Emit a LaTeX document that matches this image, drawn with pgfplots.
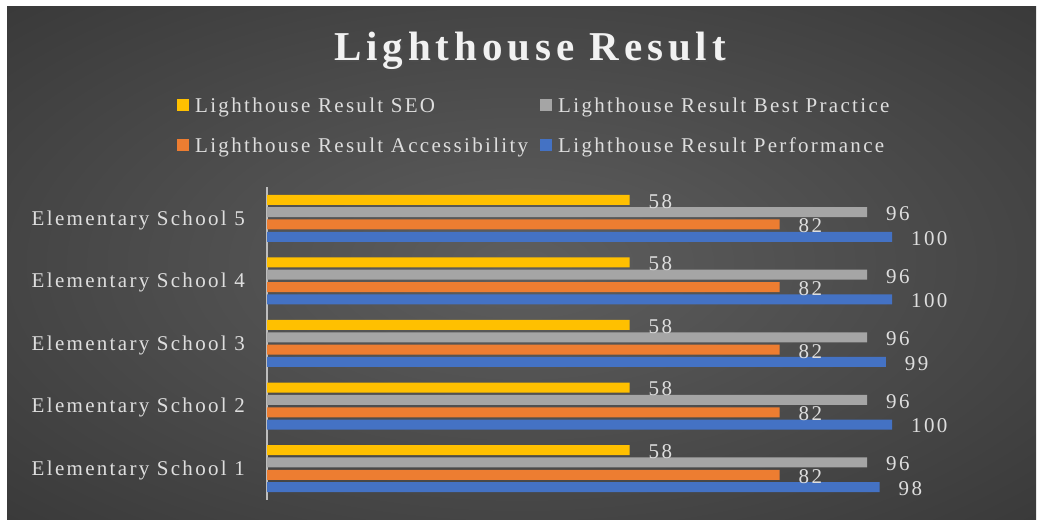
\documentclass[border=0pt]{standalone}
\usepackage{pgfplots}
\pgfplotsset{compat=1.18}
\usepackage{pgfplotstable}
\usepackage{fontspec}
\setmainfont{Liberation Serif}
\newfontfamily\lsfont{Liberation Serif}[LetterSpace=11]
\newfontfamily\titlefont{Liberation Serif}[LetterSpace=12]
\definecolor{bgin}{RGB}{94,94,94}
\definecolor{bgout}{RGB}{38,38,38}
\definecolor{cseo}{RGB}{255,192,0}
\definecolor{cbp}{RGB}{165,165,165}
\definecolor{cacc}{RGB}{237,125,49}
\definecolor{cperf}{RGB}{68,114,196}
\definecolor{txt}{RGB}{222,222,222}
\definecolor{axcol}{RGB}{190,190,190}
\pgfdeclareradialshading{bgshade}{\pgfpoint{0bp}{0bp}}{color(0bp)=(bgin); color(55bp)=(bgout); color(75bp)=(bgout)}

\pgfplotstableread{
y seo bp acc perf
1 58 96 82 98
2 58 96 82 100
3 58 96 82 99
4 58 96 82 100
5 58 96 82 100
}\datatable

\begin{document}
\begin{tikzpicture}
\useasboundingbox (0,0) rectangle (1038pt,521pt);
\fill[white] (0,0) rectangle (1038pt,521pt);
\shade[shading=bgshade] (7pt,1pt) rectangle (1036pt,514pt);
\node[anchor=base, text=black!70, font=\titlefont\bfseries\fontsize{41}{48}\selectfont] at (531.5pt,458.8pt) {Lighthouse Result};
\node[anchor=base, text=white!95!black, font=\titlefont\bfseries\fontsize{41}{48}\selectfont] at (530pt,460.3pt) {Lighthouse Result};
\begin{axis}[
  at={(267pt,21pt)}, anchor=south west,
  scale only axis, width=737.5pt, height=313pt,
  xmin=0, xmax=118, ymin=0.5, ymax=5.5,
  xbar, bar width=10pt,
  axis x line=none, axis y line=left,
  y axis line style={-, draw=axcol, line width=1.5pt},
  ytick={1,2,3,4,5},
  yticklabels={Elementary School 1,Elementary School 2,Elementary School 3,Elementary School 4,Elementary School 5},
  major tick length=0pt,
  yticklabel style={anchor=base east, inner sep=0pt, xshift=-22pt, yshift=-6.9pt, text=txt, font=\lsfont\fontsize{21}{25}\selectfont},
  clip=false,
  nodes near coords,
  /pgf/number format/assume math mode=true,
  every node near coord/.append style={anchor=west, inner sep=0pt, xshift=19pt, yshift=-1.5pt, text=txt, font=\lsfont\fontsize{21}{25}\selectfont},
  legend columns=2,
  legend cell align=left,
  legend style={at={(axis description cs:-0.122,1.2845)}, anchor=north west, draw=none, fill=none, text=txt,
    font=\lsfont\fontsize{21}{25}\selectfont, inner sep=0pt, row sep=22pt,
    nodes={inner sep=0pt, text height=14pt, text depth=4pt},
    /tikz/every odd column/.append style={column sep=6pt},
    /tikz/every even column/.append style={column sep=12pt}},
  legend image code/.code={\fill[#1] (0pt,-4pt) rectangle (12pt,8pt);},
]
\addplot[fill=cseo, draw=none, bar shift=18.5pt] table[x=seo,y=y]{\datatable};
\addlegendentry{Lighthouse Result SEO}
\addplot[fill=cbp, draw=none, bar shift=6.2pt] table[x=bp,y=y]{\datatable};
\addlegendentry{Lighthouse Result Best Practice}
\addplot[fill=cacc, draw=none, bar shift=-6.2pt] table[x=acc,y=y]{\datatable};
\addlegendentry{Lighthouse Result Accessibility}
\addplot[fill=cperf, draw=none, bar shift=-18.5pt] table[x=perf,y=y]{\datatable};
\addlegendentry{Lighthouse Result Performance}
\end{axis}
\end{tikzpicture}
\end{document}
